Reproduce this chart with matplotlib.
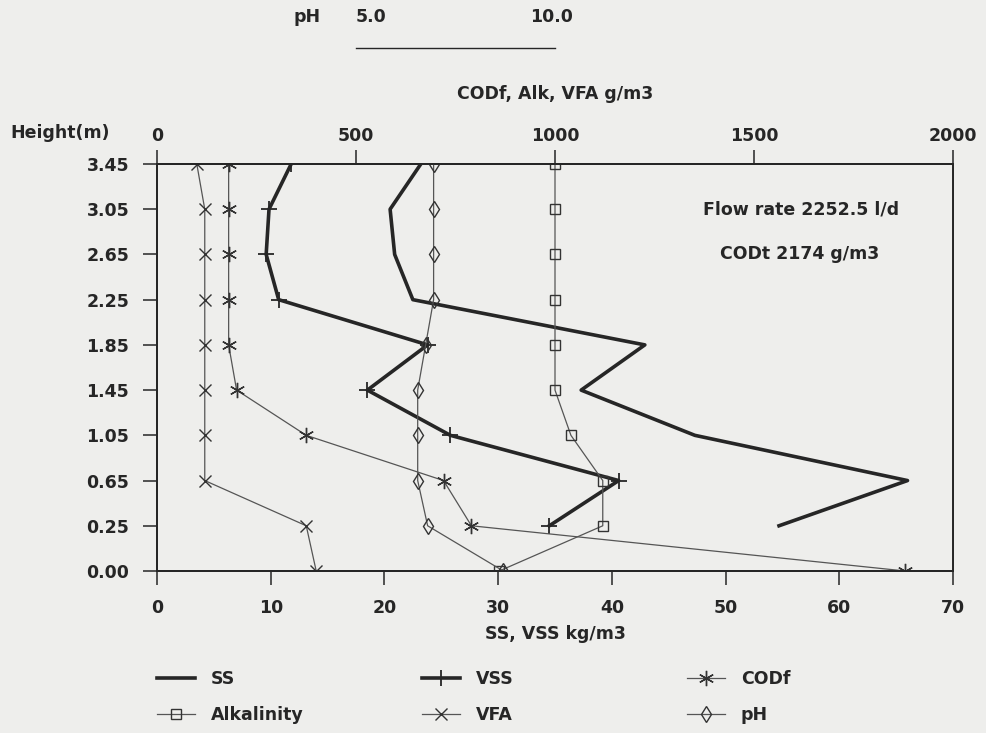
import numpy as np
import matplotlib
matplotlib.use('Agg')
import matplotlib.pyplot as plt
from matplotlib.transforms import blended_transform_factory

# reactor sampling heights (evenly spaced categories on the plot)
heights = ['0.00', '0.25', '0.65', '1.05', '1.45', '1.85', '2.25', '2.65', '3.05', '3.45']

# kg/m3 (bottom axis)
ss = [np.nan, 54.7, 66.0, 47.3, 37.3, 42.9, 22.5, 20.9, 20.5, 23.2]
vss = [np.nan, 34.5, 40.6, 25.8, 18.5, 23.8, 10.7, 9.6, 9.85, 11.8]

# g/m3 (top axis)
codf = [1880, 790, 720, 375, 200, 180, 180, 180, 180, 180]
alk = [860, 1120, 1120, 1040, 1000, 1000, 1000, 1000, 1000, 1000]
vfa = [400, 375, 120, 120, 120, 120, 120, 120, 120, 100]

# pH (own scale, 5.0-10.0 sits under 500-1000 g/m3)
ph = [8.7, 6.8, 6.55, 6.55, 6.55, 6.75, 6.95, 6.95, 6.95, 6.95]

bg = '#eeeeec'
ink = '#262626'
thin = '#555555'
fs = 12.5

plt.rcParams['font.family'] = 'DejaVu Sans'
plt.rcParams['font.weight'] = 'bold'
plt.rcParams['axes.labelweight'] = 'bold'

W, H = 987, 733
fig = plt.figure(figsize=(W / 100, H / 100), dpi=100, facecolor=bg)
L, R, T, B = 157, 953, 164, 571
ax = fig.add_axes([L / W, 1 - B / H, (R - L) / W, (B - T) / H])
ax.set_facecolor(bg)
ax2 = ax.twiny()
ax3 = ax.twiny()

y = np.arange(len(heights))

ax.plot(ss, y, color=ink, lw=2.6, label='SS')
ax.plot(vss, y, color=ink, lw=2.6, marker='+', ms=11, mew=1.3, label='VSS')
ax2.plot(codf, y, color=thin, lw=0.9, marker=(6, 2, 0), ms=11, mew=1.0, mec='#333333', label='CODf')
ax2.plot(alk, y, color=thin, lw=0.9, marker='s', ms=7, mfc='none', mec='#333333', mew=1.0, label='Alkalinity')
ax2.plot(vfa, y, color=thin, lw=0.9, marker='x', ms=8, mew=1.0, mec='#333333', label='VFA')
ax3.plot(ph, y, color=thin, lw=0.9, marker='d', ms=8, mfc='none', mec='#333333', mew=1.0, label='pH')

ax.set_xlim(0, 70)
ax2.set_xlim(0, 2000)
ax3.set_xlim(0, 20)
ax.set_ylim(0, len(heights) - 1)

ax.set_xticks(range(0, 71, 10))
ax2.set_xticks(range(0, 2001, 500))
ax3.set_xticks([])
ax.set_yticks(y)
ax.set_yticklabels(heights)

for a in (ax, ax2, ax3):
    for s in a.spines.values():
        s.set_color(ink)
        s.set_linewidth(1.2)
ax.spines['right'].set_linewidth(0.7)
ax.spines['right'].set_color('#666666')
ax.tick_params(axis='both', direction='out', length=10, width=1.1, color=ink,
               labelsize=fs, labelcolor=ink, pad=10)
ax2.tick_params(axis='x', direction='out', length=10, width=1.1, color=ink,
                labelsize=fs, labelcolor=ink, pad=4)

ax.set_xlabel('SS, VSS kg/m3', fontsize=fs, color=ink, labelpad=6)
ax2.set_xlabel('CODf, Alk, VFA g/m3', fontsize=fs, color=ink, labelpad=20)

fig.text(10 / W, 1 - 133 / H, 'Height(m)', fontsize=fs, color=ink, va='center', ha='left')

# the small pH scale above the top axis
tr = blended_transform_factory(ax3.transData, ax.transAxes)
ax3.plot([5, 10], [(B - 48) / (B - T)] * 2, transform=tr, color=ink, lw=1.0, clip_on=False)
ax3.text(5, (B - 17) / (B - T), '5.0', transform=tr, ha='left', va='center', fontsize=fs, color=ink)
ax3.text(9.9, (B - 17) / (B - T), '10.0', transform=tr, ha='center', va='center', fontsize=fs, color=ink)
fig.text(307 / W, 1 - 17 / H, 'pH', ha='center', va='center', fontsize=fs, color=ink)

fig.text(801 / W, 1 - 209 / H, 'Flow rate 2252.5 l/d', ha='center', va='center', fontsize=fs, color=ink)
fig.text(800 / W, 1 - 254 / H, 'CODt 2174 g/m3', ha='center', va='center', fontsize=fs, color=ink)

# legend in three columns
h1, l1 = ax.get_legend_handles_labels()
h2, l2 = ax2.get_legend_handles_labels()
h3, l3 = ax3.get_legend_handles_labels()
hd = dict(zip(l1 + l2 + l3, h1 + h2 + h3))
cols = [(['SS', 'Alkalinity'], 157), (['VSS', 'VFA'], 422), (['CODf', 'pH'], 687)]
for names, x0 in cols:
    leg = fig.legend([hd[n] for n in names], names, loc='upper left',
                     bbox_to_anchor=(x0 / W, 1 - 670 / H), frameon=False,
                     fontsize=fs, handlelength=2.2, handletextpad=0.9,
                     labelspacing=1.05, borderpad=0, borderaxespad=0)
    for t in leg.get_texts():
        t.set_color(ink)

fig.savefig('out.png', dpi=100, facecolor=bg)
